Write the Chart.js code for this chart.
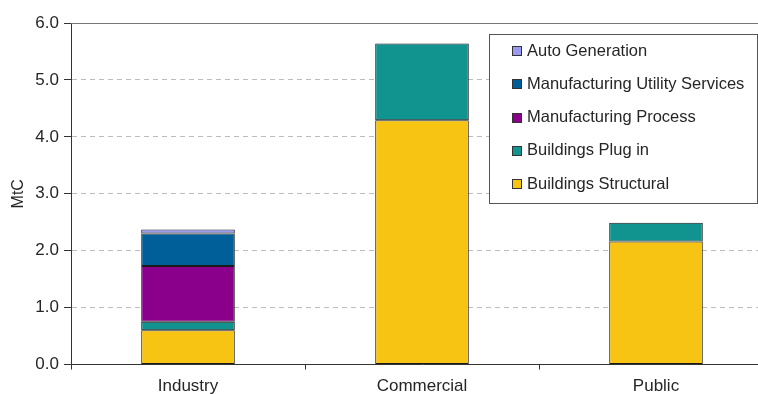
<!DOCTYPE html>
<html>
<head>
<meta charset="utf-8">
<script src="https://cdn.jsdelivr.net/npm/chart.js@4.4.1/dist/chart.umd.min.js"></script>
<style>
  html, body { margin: 0; padding: 0; background: #fff; overflow: hidden; }
  #wrap { width: 773px; height: 394px; }
</style>
</head>
<body>
<div id="wrap"><canvas id="c" width="773" height="394"></canvas></div>
<script>
// Sectors along the x axis
const categories = ['Industry', 'Commercial', 'Public'];

// Emissions by end use (MtC), stacked bottom to top
const buildingsStructural = [0.60, 4.29, 2.16];
const buildingsPlugIn = [0.15, 1.35, 0.33];
const manufacturingProcess = [0.98, null, null];
const manufacturingUtility = [0.57, null, null];
const autoGeneration = [0.07, null, null];

// Y axis ticks
const yTicks = [0, 1, 2, 3, 4, 5, 6];

const FONT = "'Liberation Sans', Arial, sans-serif";
const TEXT = '#262626';

function ds(label, data, color) {
  return {
    label, data,
    backgroundColor: color,
    borderColor: '#1a1a1a',
    borderWidth: 1,
    borderSkipped: false,
    barPercentage: 0.4,
    categoryPercentage: 1.0
  };
}

// Boxed legend inside the plot, listed top stack segment first
const boxLegend = {
  id: 'boxLegend',
  afterDraw(chart) {
    const ctx = chart.ctx;
    const x0 = 489.5, y0 = 34.5, w = 268, h = 169;
    ctx.save();
    ctx.fillStyle = '#fff';
    ctx.fillRect(x0, y0, w, h);
    ctx.strokeStyle = '#555';
    ctx.lineWidth = 1;
    ctx.strokeRect(x0, y0, w, h);
    const items = chart.data.datasets.slice().reverse();
    ctx.font = '16.5px ' + FONT;
    ctx.textBaseline = 'middle';
    ctx.textAlign = 'left';
    items.forEach((d, i) => {
      const cy = 50 + i * 33.3;
      ctx.fillStyle = d.backgroundColor;
      ctx.fillRect(512.5, Math.round(cy - 4) + 0.5, 9, 9);
      ctx.strokeStyle = '#333';
      ctx.strokeRect(512.5, Math.round(cy - 4) + 0.5, 9, 9);
      ctx.fillStyle = TEXT;
      ctx.fillText(d.label, 527, cy + 1);
    });
    ctx.restore();
  }
};

// Solid frame line along the top of the plot area
const topFrame = {
  id: 'topFrame',
  beforeDatasetsDraw(chart) {
    const { ctx, chartArea } = chart;
    ctx.save();
    ctx.strokeStyle = '#777';
    ctx.lineWidth = 1;
    ctx.beginPath();
    ctx.moveTo(chartArea.left, Math.round(chartArea.top) + 0.5);
    ctx.lineTo(chartArea.right, Math.round(chartArea.top) + 0.5);
    ctx.stroke();
    ctx.restore();
  }
};

new Chart(document.getElementById('c'), {
  type: 'bar',
  data: {
    labels: categories,
    datasets: [
      ds('Buildings Structural', buildingsStructural, '#F7C413'),
      ds('Buildings Plug in', buildingsPlugIn, '#11938F'),
      ds('Manufacturing Process', manufacturingProcess, '#8B008B'),
      ds('Manufacturing Utility Services', manufacturingUtility, '#005F98'),
      ds('Auto Generation', autoGeneration, '#9A9AF2')
    ]
  },
  options: {
    responsive: false,
    animation: false,
    layout: { padding: { top: 23, left: 0, right: 0, bottom: 0 } },
    plugins: { legend: { display: false }, tooltip: { enabled: false } },
    scales: {
      x: {
        stacked: true,
        offset: true,
        grid: { offset: true, drawOnChartArea: false, tickLength: 5, tickColor: '#333' },
        border: { display: true, color: '#333', width: 1 },
        ticks: { color: TEXT, font: { family: FONT, size: 17 }, padding: 7, maxRotation: 0 },
        afterFit(s) { s.height = 29.5; }
      },
      y: {
        stacked: true,
        min: yTicks[0],
        max: yTicks[yTicks.length - 1],
        afterBuildTicks(s) { s.ticks = yTicks.map(v => ({ value: v })); },
        grid: {
          color: '#bdbdbd',
          tickColor: '#333',
          tickLength: 7,
          tickBorderDash: []
        },
        border: { display: true, color: '#333', width: 1, dash: [5, 4] },
        ticks: {
          color: TEXT,
          font: { family: FONT, size: 17 },
          padding: 5,
          callback: v => Number(v).toFixed(1)
        },
        title: {
          display: true,
          text: 'MtC',
          color: TEXT,
          font: { family: FONT, size: 16 },
          padding: { top: 9, bottom: 0 }
        },
        afterFit(s) { s.width = 71; }
      }
    }
  },
  plugins: [topFrame, boxLegend]
});
</script>
</body>
</html>
